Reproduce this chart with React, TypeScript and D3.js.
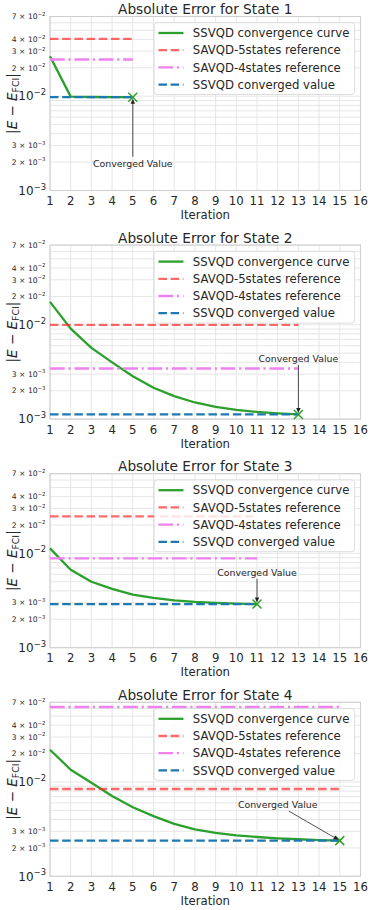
import React from "react";
import * as d3 from "d3";

// ---------- data ----------
const stateNames = ["State 1", "State 2", "State 3", "State 4"];
const curveState1 = [2.65e-2, 9.9e-3, 9.8e-3, 9.78e-3, 9.76e-3];
const curveState2 = [1.75e-2, 9.1e-3, 5.7e-3, 4.0e-3, 2.85e-3, 2.15e-3, 1.75e-3, 1.5e-3, 1.35e-3, 1.25e-3, 1.19e-3, 1.15e-3, 1.12e-3];
const curveState3 = [1.13e-2, 6.7e-3, 5.0e-3, 4.2e-3, 3.65e-3, 3.37e-3, 3.17e-3, 3.06e-3, 2.99e-3, 2.94e-3, 2.9e-3];
const curveState4 = [2.2e-2, 1.35e-2, 9.8e-3, 7.1e-3, 5.4e-3, 4.35e-3, 3.6e-3, 3.15e-3, 2.88e-3, 2.72e-3, 2.61e-3, 2.53e-3, 2.47e-3, 2.42e-3, 2.39e-3];
const curves = [curveState1, curveState2, curveState3, curveState4];
const ref5states = [4.06e-2, 1.0e-2, 2.47e-2, 8.43e-3];
const ref4states = [2.45e-2, 3.44e-3, 8.85e-3, 6.24e-2];
const annotIter = [5, 13, 11, 12];
const annotValue = [1.95e-3, 4.4e-3, 6.3e-3, 5.75e-3];
const xTicks = d3.range(1, 17);
const yMajorTicks = [1e-3, 1e-2];
const yMinorLabelled = [2e-3, 3e-3, 2e-2, 3e-2, 4e-2, 7e-2];
const legendLabels = [
  "SSVQD convergence curve",
  "SAVQD-5states reference",
  "SAVQD-4states reference",
  "SSVQD converged value",
];

// ---------- layout / style ----------
const W = 371;
const H = 910;
const left = 50;
const right = 360.5;
const firstTop = 16.5;
const panelStep = 228.6;
const panelH = 174;
const FONT = "'DejaVu Sans', sans-serif";
const TXT = "#262626";
const GRID = "#e3e3e3";
const EDGE = "#cfcfcf";
const GREEN = "#2ca02c";
const RED = "#ff2a2a";
const VIOLET = "#ee82ee";
const BLUE = "#1f77b4";
const LW = 2.3;
const dashed = `${3.7 * LW} ${1.6 * LW}`;
const dashDot = `${6.4 * LW} ${1.6 * LW} ${1 * LW} ${1.6 * LW}`;

const gridValues: number[] = [];
[1e-3, 1e-2].forEach((d) => {
  for (let m = 1; m <= 9; m++) {
    const v = m * d;
    if (v <= 7.0001e-2) gridValues.push(v);
  }
});

function expOf(v: number) {
  return Math.floor(Math.log10(v) + 1e-9);
}

function Panel({ idx }: { idx: number }) {
  const top = firstTop + idx * panelStep;
  const bottom = top + panelH;
  const x = d3.scaleLinear().domain([1, 16]).range([left, right]);
  const y = d3.scaleLog().domain([1e-3, 7e-2]).range([bottom, top]);
  const curve = curves[idx];
  const iters = curve.map((_, i) => i + 1);
  const lastIter = iters[iters.length - 1];
  const conv = curve[curve.length - 1];
  const line = d3
    .line<number>()
    .x((_, i) => x(iters[i]))
    .y((d) => y(d));

  const hLine = (v: number) => ({ x1: x(1), x2: x(lastIter), y1: y(v), y2: y(v) });

  // annotation
  const tx = x(annotIter[idx]);
  const ty = y(annotValue[idx]);
  const px = x(lastIter);
  const py = y(conv);
  const dx = px - tx;
  const dy = py - ty;
  const t = Math.min(Math.abs(dx) > 0.01 ? 41 / Math.abs(dx) : 1e9, Math.abs(dy) > 0.01 ? 6.5 / Math.abs(dy) : 1e9);
  const sx = tx + t * dx;
  const sy = ty + t * dy;
  const len = Math.hypot(px - sx, py - sy);
  const ux = (px - sx) / len;
  const uy = (py - sy) / len;
  const ex = px - ux * 1.5;
  const ey = py - uy * 1.5;
  const ah = 5;
  const aw = 2.2;
  const headPts = [
    [ex, ey],
    [ex - ux * ah - uy * aw, ey - uy * ah + ux * aw],
    [ex - ux * ah + uy * aw, ey - uy * ah - ux * aw],
  ];

  // legend
  const lgRight = right - 5.85;
  const lgLeft = lgRight - 200.5;
  const lgTop = top + 6.2;
  const lgH = 71.8;
  const rowY = (i: number) => lgTop + 10.3 + i * 17.2;
  const legendStyles = [
    { stroke: GREEN, dash: undefined as string | undefined, op: 1 },
    { stroke: RED, dash: dashed, op: 0.7 },
    { stroke: VIOLET, dash: dashDot, op: 1 },
    { stroke: BLUE, dash: dashed, op: 1 },
  ];

  const yMid = (top + bottom) / 2;

  return (
    <g>
      {/* grid */}
      {gridValues.map((v) => (
        <line key={"gy" + v} x1={left} x2={right} y1={y(v)} y2={y(v)} stroke={GRID} strokeWidth={0.9} />
      ))}
      {xTicks.map((v) => (
        <line key={"gx" + v} x1={x(v)} x2={x(v)} y1={top} y2={bottom} stroke={GRID} strokeWidth={0.9} />
      ))}
      <rect x={left} y={top} width={right - left} height={panelH} fill="none" stroke={EDGE} strokeWidth={1.1} />

      {/* title */}
      <text x={(left + right) / 2} y={top - 2.5} textAnchor="middle" fontSize={13.7} fill={TXT} fontFamily={FONT}>
        {"Absolute Error for " + stateNames[idx]}
      </text>

      {/* x ticks */}
      {xTicks.map((v) => (
        <text key={"xt" + v} x={x(v)} y={bottom + 14.5} textAnchor="middle" fontSize={11.7} fill={TXT} fontFamily={FONT}>
          {v}
        </text>
      ))}
      <text x={(left + right) / 2} y={bottom + 28.4} textAnchor="middle" fontSize={11.7} fill={TXT} fontFamily={FONT}>
        Iteration
      </text>

      {/* y ticks */}
      {yMajorTicks.map((v) => (
        <text key={"ym" + v} x={46} y={y(v) + 4.3} textAnchor="end" fontSize={12} fill={TXT} fontFamily={FONT}>
          <tspan>10</tspan>
          <tspan dy={-5.2} fontSize={8.4}>{"\u2212" + Math.abs(expOf(v))}</tspan>
        </text>
      ))}
      {yMinorLabelled.map((v) => {
        const e = expOf(v);
        const m = Math.round(v / Math.pow(10, e));
        return (
          <text key={"yn" + v} x={45.5} y={y(v) + 2.7} textAnchor="end" fontSize={7.6} fill={TXT} fontFamily={FONT}>
            <tspan>{m + " \u00d7 10"}</tspan>
            <tspan dy={-3.4} fontSize={5.4}>{"\u2212" + Math.abs(e)}</tspan>
          </text>
        );
      })}

      {/* y label */}
      <text
        transform={`translate(${16.5},${yMid}) rotate(-90)`}
        textAnchor="middle"
        fontSize={13.5}
        fill={TXT}
        fontFamily={FONT}
      >
        <tspan>|</tspan>
        <tspan fontStyle="italic">E</tspan>
        <tspan>{" \u2212 "}</tspan>
        <tspan fontStyle="italic">E</tspan>
        <tspan dy={2.8} fontSize={9.4}>FCI</tspan>
        <tspan dy={-2.8}>|</tspan>
      </text>

      {/* data */}
      <path d={line(curve) || ""} fill="none" stroke={GREEN} strokeWidth={LW} strokeLinejoin="round" />
      <line {...hLine(ref5states[idx])} stroke={RED} strokeOpacity={0.7} strokeWidth={LW} strokeDasharray={dashed} />
      <line {...hLine(ref4states[idx])} stroke={VIOLET} strokeWidth={LW} strokeDasharray={dashDot} />
      <line {...hLine(conv)} stroke={BLUE} strokeWidth={LW} strokeDasharray={dashed} />
      <g stroke={GREEN} strokeWidth={1.5}>
        <line x1={px - 4.5} x2={px + 4.5} y1={py - 4.5} y2={py + 4.5} />
        <line x1={px - 4.5} x2={px + 4.5} y1={py + 4.5} y2={py - 4.5} />
      </g>

      {/* annotation */}
      <text x={tx} y={ty + 3.4} textAnchor="middle" fontSize={9.4} fill={TXT} fontFamily={FONT}>
        Converged Value
      </text>
      <line x1={sx} y1={sy} x2={ex - ux * 3} y2={ey - uy * 3} stroke="#222" strokeWidth={0.8} />
      <polygon points={headPts.map((p) => p.join(",")).join(" ")} fill="#222" />

      {/* legend */}
      <rect x={lgLeft} y={lgTop} width={lgRight - lgLeft} height={lgH} rx={3} fill="#fff" fillOpacity={0.8} stroke="#d9d9d9" strokeWidth={0.9} />
      {legendLabels.map((lab, i) => (
        <g key={lab}>
          <line
            x1={lgLeft + 4.3}
            x2={lgLeft + 29.3}
            y1={rowY(i)}
            y2={rowY(i)}
            stroke={legendStyles[i].stroke}
            strokeOpacity={legendStyles[i].op}
            strokeWidth={LW}
            strokeDasharray={legendStyles[i].dash}
          />
          <text x={lgLeft + 38.7} y={rowY(i) + 4.2} fontSize={11.7} fill={TXT} fontFamily={FONT}>
            {lab}
          </text>
        </g>
      ))}
    </g>
  );
}

export default function App() {
  return (
    <div style={{ position: "absolute", left: 0, top: 0, width: W, height: H, background: "#fff" }}>
      <svg width={W} height={H} viewBox={`0 0 ${W} ${H}`} style={{ display: "block" }}>
        <rect width={W} height={H} fill="#fff" />
        {stateNames.map((_, i) => (
          <Panel key={i} idx={i} />
        ))}
      </svg>
    </div>
  );
}
